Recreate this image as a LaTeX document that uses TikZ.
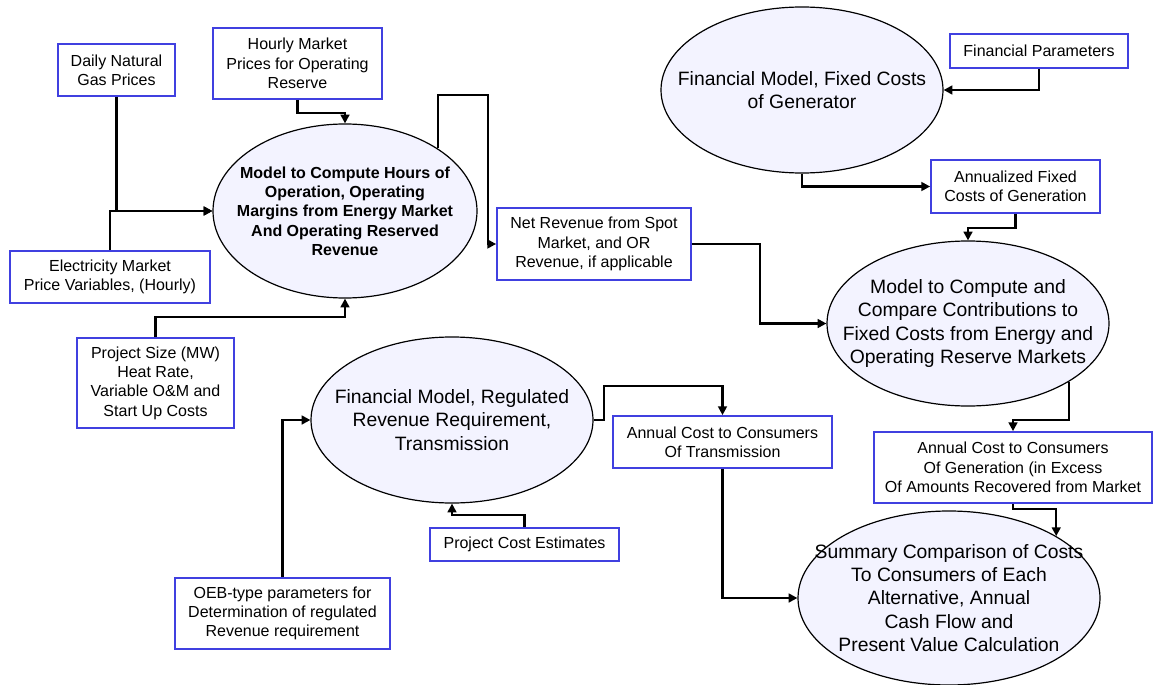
\documentclass[tikz,border=0pt]{standalone}
\usepackage{fontspec}
\setmainfont{Liberation Sans}
\usetikzlibrary{shapes.geometric,arrows.meta}
\definecolor{boxblue}{RGB}{64,64,224}
\definecolor{modelfill}{RGB}{243,243,255}

\begin{document}
\begin{tikzpicture}[x=0.75pt,y=-0.75pt,
  inbox/.style={draw=boxblue,line width=1.3pt,fill=white,align=center,inner sep=2pt,font=\fontsize{12}{14.5}\selectfont},
  model/.style={ellipse,draw,line width=0.9pt,fill=modelfill,inner sep=0pt},
  modeltext/.style={align=center,font=\fontsize{14.5}{17.5}\selectfont},
  flow/.style={line width=1.6pt,-{Triangle[length=6.5pt,width=6.5pt]}}]
\useasboundingbox (0,0) rectangle (1153,685);

\node[model,minimum width=198pt,minimum height=130.5pt] (hours) at (345,211) {};
\node[modeltext,font=\bfseries\fontsize{12}{14.5}\selectfont] (hourstxt) at (hours) {Model to Compute Hours of\\Operation, Operating\\Margins from Energy Market\\And Operating Reserved\\Revenue};
\node[model,minimum width=211.5pt,minimum height=124.5pt] (fixed) at (802,90) {};
\node[modeltext] (fixedtxt) at (fixed) {Financial Model, Fixed Costs\\of Generator};
\node[model,minimum width=211.5pt,minimum height=123.75pt] (compare) at (968,323.5) {};
\node[modeltext] (comparetxt) at (compare) {Model to Compute and\\Compare Contributions to\\Fixed Costs from Energy and\\Operating Reserve Markets};
\node[model,minimum width=211.5pt,minimum height=124.5pt] (regul) at (452,420) {};
\node[modeltext] (regultxt) at (regul) {Financial Model, Regulated\\Revenue Requirement,\\Transmission};
\node[model,minimum width=226.5pt,minimum height=130.5pt] (summary) at (949,598) {};
\node[modeltext] (summarytxt) at (summary) {Summary Comparison of Costs\\To Consumers of Each\\Alternative, Annual\\Cash Flow and\\Present Value Calculation};

\node[inbox,minimum width=87.75pt,minimum height=39pt] (gas) at (116.5,70) {Daily Natural\\Gas Prices};
\node[inbox,minimum width=126.75pt,minimum height=53.25pt] (orprice) at (297.5,63.5) {Hourly Market\\Prices for Operating\\Reserve};
\node[inbox,minimum width=150pt,minimum height=39pt] (elec) at (110,277) {Electricity Market\\Price Variables, (Hourly)};
\node[inbox,minimum width=117.75pt,minimum height=67.5pt] (size) at (155.5,383) {Project Size (MW)\\Heat Rate,\\Variable O\&M and\\Start Up Costs};
\node[inbox,minimum width=161.25pt,minimum height=53.25pt] (oeb) at (282.5,613.5) {OEB-type parameters for\\Determination of regulated\\Revenue requirement};
\node[inbox,minimum width=141.75pt,minimum height=24.75pt] (pcost) at (524.5,544.5) {Project Cost Estimates};
\node[inbox,minimum width=164.25pt,minimum height=39pt] (tcost) at (722.5,442) {Annual Cost to Consumers\\Of Transmission};
\node[inbox,minimum width=145.5pt,minimum height=54pt] (netrev) at (594,244) {Net Revenue from Spot\\Market, and OR\\Revenue, if applicable};
\node[inbox,minimum width=133.5pt,minimum height=25.5pt] (finpar) at (1039,51) {Financial Parameters};
\node[inbox,minimum width=126.75pt,minimum height=39.75pt] (annfix) at (1015.5,186.5) {Annualized Fixed\\Costs of Generation};
\node[inbox,minimum width=208.5pt,minimum height=53.25pt] (gcost) at (1013,467.5) {Annual Cost to Consumers\\Of Generation (in Excess\\Of Amounts Recovered from Market};

\draw[flow] (gas.south) |- (hours.west);
\draw[flow] (elec.north) |- (hours.west);
\draw[flow] (orprice.south) -- ++(0,13) -| (hours.north);
\draw[flow] (size.north) -- ++(0,-20) -| (hours.south);
\draw[flow] (hours.34) -- ++(0,-53) -- ++(50,0) |- (netrev.west);
\draw[flow] (netrev.east) -- ++(68,0) |- (compare.west);
\draw[flow] (finpar.south) |- (fixed.east);
\draw[flow] (fixed.south) |- (annfix.west);
\draw[flow] (annfix.south) -- ++(0,14) -| (compare.north);
\draw[flow] (compare.-30) -- ++(0,38) -| (gcost.north);
\draw[flow] (gcost.south) -- ++(0,5) -| (summary.30);
\draw[flow] (regul.east) -- ++(10,0) -- ++(0,-34) -| (tcost.north);
\draw[flow] (tcost.south) |- (summary.west);
\draw[flow] (pcost.north) -- ++(0,-12) -| (regul.south);
\draw[flow] (oeb.north) |- (regul.west);
\end{tikzpicture}
\end{document}
